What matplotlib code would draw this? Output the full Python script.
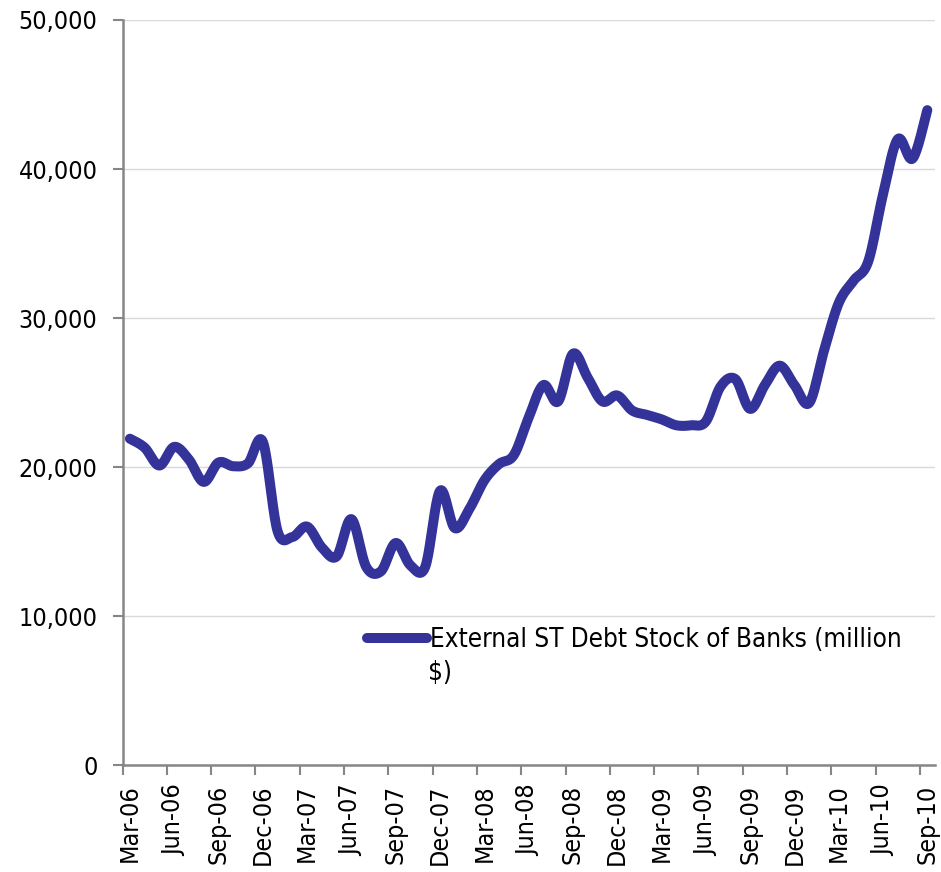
import numpy as np
import matplotlib
matplotlib.use("Agg")
import matplotlib.pyplot as plt
from matplotlib.lines import Line2D

# ---------------- data ----------------
months = ["Mar-06", "Apr-06", "May-06", "Jun-06", "Jul-06", "Aug-06", "Sep-06", "Oct-06", "Nov-06", "Dec-06",
          "Jan-07", "Feb-07", "Mar-07", "Apr-07", "May-07", "Jun-07", "Jul-07", "Aug-07", "Sep-07", "Oct-07",
          "Nov-07", "Dec-07", "Jan-08", "Feb-08", "Mar-08", "Apr-08", "May-08", "Jun-08", "Jul-08", "Aug-08",
          "Sep-08", "Oct-08", "Nov-08", "Dec-08", "Jan-09", "Feb-09", "Mar-09", "Apr-09", "May-09", "Jun-09",
          "Jul-09", "Aug-09", "Sep-09", "Oct-09", "Nov-09", "Dec-09", "Jan-10", "Feb-10", "Mar-10", "Apr-10",
          "May-10", "Jun-10", "Jul-10", "Aug-10", "Sep-10"]
debt = [21900, 21300, 20100, 21350, 20500, 19000, 20300, 20050, 20250, 21700,
        15700, 15300, 16000, 14600, 14000, 16500, 13300, 13000, 14900, 13400,
        13300, 18400, 15900, 17200, 19100, 20200, 20800, 23300, 25500, 24400,
        27600, 26000, 24400, 24800, 23800, 23500, 23200, 22800, 22800, 23050,
        25400, 25900, 23900, 25500, 26800, 25500, 24300, 27800, 31000, 32500,
        33800, 38300, 42000, 40700, 43950]
y_ticks = [0, 10000, 20000, 30000, 40000, 50000]
series_label = "External ST Debt Stock of Banks (million"
series_label_2 = "\\$)"

LINE_COLOR = "#333399"
AXIS_COLOR = "#868686"
GRID_COLOR = "#d9d9d9"
FS = 18
LFS = 18.7
plt.rcParams["font.family"] = ["DejaVu Sans"]
plt.rcParams["font.stretch"] = "condensed"

# smoothed rendering (Excel-style Catmull-Rom / Bezier smoothing between data points)
def smooth(xs, ys, n=20):
    xs = np.asarray(xs, float); ys = np.asarray(ys, float)
    px = np.concatenate([[xs[0]], xs, [xs[-1]]])
    py = np.concatenate([[ys[0]], ys, [ys[-1]]])
    ox, oy = [], []
    t = np.linspace(0, 1, n, endpoint=False)
    for i in range(1, len(px) - 2):
        p0x, p1x, p2x, p3x = px[i-1], px[i], px[i+1], px[i+2]
        p0y, p1y, p2y, p3y = py[i-1], py[i], py[i+1], py[i+2]
        c1x = p1x + (p2x - p0x) / 6; c1y = p1y + (p2y - p0y) / 6
        c2x = p2x - (p3x - p1x) / 6; c2y = p2y - (p3y - p1y) / 6
        b0 = (1-t)**3; b1 = 3*(1-t)**2*t; b2 = 3*(1-t)*t**2; b3 = t**3
        ox.extend(b0*p1x + b1*c1x + b2*c2x + b3*p2x)
        oy.extend(b0*p1y + b1*c1y + b2*c2y + b3*p2y)
    ox.append(xs[-1]); oy.append(ys[-1])
    return np.array(ox), np.array(oy)

x = np.arange(len(months))
sx, sy = smooth(x, debt)

fig = plt.figure(figsize=(9.41, 8.72), dpi=100)
W, H = 941, 872
left, right, top, bottom = 122.5, 934.7, 20, 765
ax = fig.add_axes([left / W, 1 - bottom / H, (right - left) / W, (bottom - top) / H])

ax.plot(sx, sy, color=LINE_COLOR, lw=7.2, solid_capstyle="round", solid_joinstyle="round", zorder=3)

ax.set_xlim(-0.5, len(months) - 0.5)
ax.set_ylim(0, 50000)

ax.set_yticks(y_ticks)
ax.set_yticklabels([f"{v:,}" for v in y_ticks], fontsize=FS)
ax.yaxis.grid(True, color=GRID_COLOR, lw=1.0)
ax.set_axisbelow(True)

major = list(range(0, len(months), 3))
ax.set_xticks(major)
ax.set_xticklabels([months[i] for i in major], rotation=90, fontsize=FS, va="top", ha="center")
ax.set_xticks([i - 0.5 for i in range(0, len(months), 3)], minor=True)
ax.tick_params(axis="x", which="major", length=0, pad=14)
ax.tick_params(axis="x", which="minor", length=7, width=1.5, color=AXIS_COLOR)
ax.tick_params(axis="y", length=7, width=1.5, color=AXIS_COLOR, pad=11)

for s in ["top", "right"]:
    ax.spines[s].set_visible(False)
for s in ["left", "bottom"]:
    ax.spines[s].set_color(AXIS_COLOR)
    ax.spines[s].set_linewidth(1.8)

handle = Line2D([0], [0], color=LINE_COLOR, lw=7.2, solid_capstyle="round")
leg = fig.legend([handle], [series_label], loc="center left",
                 bbox_to_anchor=(367 / W, 1 - 640 / H), frameon=False, fontsize=LFS,
                 handlelength=2.3, handletextpad=0.12, borderpad=0, borderaxespad=0)
fig.text(428 / W, 1 - 673 / H, series_label_2, fontsize=LFS, va="center", ha="left")

fig.savefig("out.png", dpi=100)
